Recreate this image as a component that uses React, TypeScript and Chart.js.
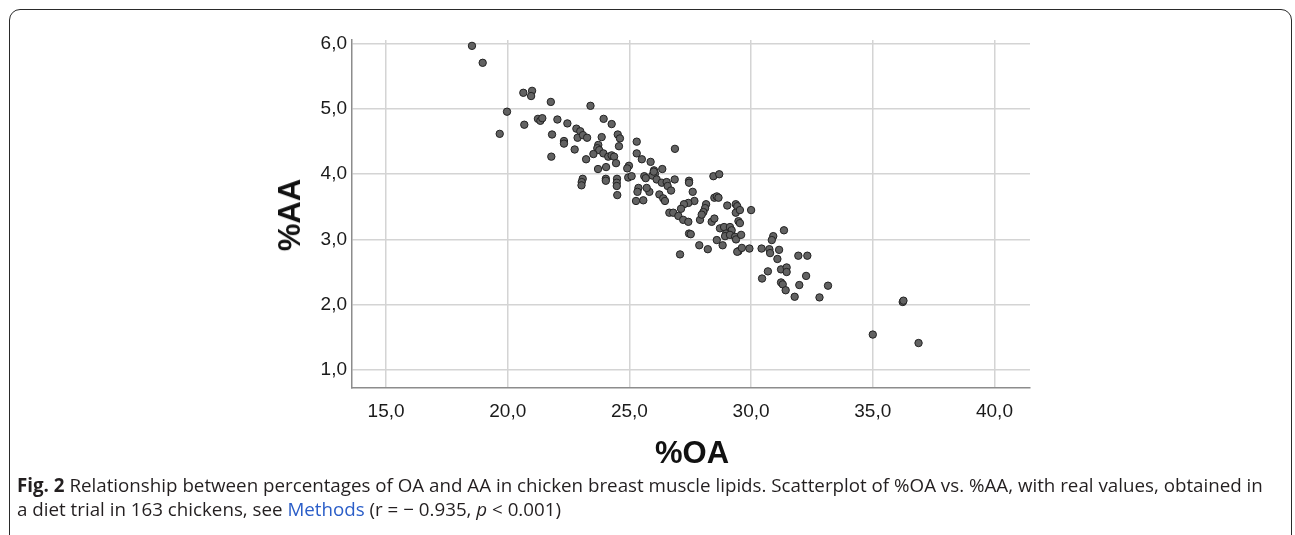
import React, { useEffect, useRef } from "react";
import { Chart, registerables } from "chart.js";

Chart.register(...registerables);

// %OA (x) and %AA (y) for each chicken, read from the scatterplot
const oaValues = [
  18.53, 18.97, 19.67, 19.97, 20.64, 20.68, 21.0, 20.96, 21.24, 21.34,
  21.42, 21.77, 21.82, 21.79, 22.04, 22.45, 22.31, 22.31, 22.82, 22.98,
  22.87, 23.09, 23.26, 22.75, 23.22, 23.08, 23.04, 23.03, 23.4, 23.94,
  24.27, 23.86, 24.52, 24.61, 24.57, 23.72, 23.68, 23.76, 23.52, 23.93,
  24.13, 24.27, 24.37, 24.45, 23.71, 24.04, 24.03, 24.03, 24.49, 24.48,
  24.48, 24.5, 24.98, 24.91, 24.95, 25.09, 25.3, 25.3, 25.51, 25.87,
  26.01, 26.05, 25.94, 25.61, 25.67, 26.35, 26.12, 26.33, 26.53, 26.57,
  26.71, 26.86, 26.87, 25.37, 25.33, 25.82, 25.71, 25.27, 25.57, 26.23,
  26.39, 26.46, 27.45, 27.45, 27.6, 27.67, 27.42, 27.24, 27.12, 26.64,
  26.8, 27.01, 27.21, 27.42, 27.45, 27.52, 27.87, 27.08, 27.9, 28.15,
  28.11, 28.04, 27.97, 28.22, 28.45, 28.69, 28.49, 28.59, 28.66, 28.38,
  28.49, 28.59, 28.83, 29.02, 29.37, 29.43, 29.37, 29.54, 30.0, 29.48,
  29.54, 28.72, 28.89, 29.13, 29.2, 28.97, 28.93, 29.13, 29.34, 29.38,
  29.59, 29.48, 29.43, 29.62, 29.93, 30.43, 30.75, 30.78, 30.91, 30.85,
  31.35, 31.15, 31.08, 31.94, 32.31, 31.23, 31.46, 31.46, 30.69, 30.45,
  31.23, 31.3, 32.26, 31.98, 31.42, 31.79, 33.16, 32.81, 36.23, 35.0,
  36.88, 36.26, 26.0,
];
const aaValues = [
  5.97, 5.71, 4.62, 4.96, 5.25, 4.76, 5.28, 5.2, 4.85, 4.82,
  4.86, 5.11, 4.61, 4.27, 4.84, 4.78, 4.51, 4.47, 4.7, 4.66,
  4.56, 4.6, 4.56, 4.38, 4.23, 3.93, 3.88, 3.83, 5.05, 4.85,
  4.77, 4.57, 4.61, 4.55, 4.43, 4.45, 4.4, 4.37, 4.31, 4.32,
  4.27, 4.29, 4.27, 4.17, 4.08, 4.11, 3.93, 3.9, 3.93, 3.87,
  3.82, 3.68, 4.13, 4.09, 3.95, 3.97, 4.5, 4.32, 4.23, 4.19,
  4.06, 4.01, 3.98, 3.97, 3.94, 4.08, 3.92, 3.87, 3.88, 3.82,
  3.75, 3.92, 4.39, 3.79, 3.73, 3.73, 3.79, 3.59, 3.6, 3.69,
  3.63, 3.59, 3.9, 3.87, 3.73, 3.59, 3.56, 3.54, 3.47, 3.41,
  3.41, 3.36, 3.3, 3.27, 3.09, 3.08, 2.91, 2.77, 3.3, 3.54,
  3.48, 3.42, 3.38, 2.85, 3.97, 4.0, 3.64, 3.66, 3.64, 3.27,
  3.32, 2.99, 2.91, 3.52, 3.54, 3.51, 3.41, 3.45, 3.45, 3.28,
  3.25, 3.17, 3.19, 3.19, 3.14, 3.09, 3.05, 3.07, 3.04, 3.0,
  3.07, 2.82, 2.81, 2.87, 2.86, 2.86, 2.85, 2.79, 3.05, 2.99,
  3.14, 2.84, 2.7, 2.75, 2.75, 2.54, 2.57, 2.5, 2.51, 2.4,
  2.34, 2.31, 2.44, 2.3, 2.22, 2.12, 2.29, 2.11, 2.04, 1.54,
  1.41, 2.06, 4.04,
];

const xTickValues = [15, 20, 25, 30, 35, 40];
const yTickValues = [1, 2, 3, 4, 5, 6];
const xTitle = "%OA";
const yTitle = "%AA";
const captionBold = "Fig. 2";
const captionLine1 =
  " Relationship between percentages of OA and AA in chicken breast muscle lipids. Scatterplot of %OA vs. %AA, with real values, obtained in";
const captionLine2a = "a diet trial in 163 chickens, see ";
const captionLink = "Methods";
const captionLine2b = " (r = \u2212 0.935, ";
const captionP = "p";
const captionLine2c = " < 0.001)";

const fmt = (v: number | string) => Number(v).toFixed(1).replace(".", ",");

const tickFont = { family: "'Liberation Sans', Arial, sans-serif", size: 19 };

export default function App() {
  const ref = useRef<HTMLCanvasElement>(null);

  useEffect(() => {
    const chart = new Chart(ref.current!, {
      type: "scatter",
      data: {
        datasets: [
          {
            data: oaValues.map((x, i) => ({ x, y: aaValues[i] })),
            backgroundColor: "#626262",
            borderColor: "#222222",
            borderWidth: 1,
            pointRadius: 3.7,
            pointHoverRadius: 3.7,
          },
        ],
      },
      options: {
        animation: false,
        responsive: false,
        devicePixelRatio: 1,
        layout: { padding: { top: 40, right: 265, left: 0, bottom: 0 } },
        plugins: { legend: { display: false }, tooltip: { enabled: false } },
        scales: {
          x: {
            type: "linear",
            min: 13.6,
            max: 41.46,
            afterBuildTicks: (s: any) => {
              s.ticks = xTickValues.map((v) => ({ value: v }));
            },
            afterFit: (s: any) => {
              s.height = 147;
            },
            grid: { color: "#d4d4d4", lineWidth: 1.5, drawTicks: false },
            border: { color: "#8c8c8c", width: 1.5 },
            ticks: {
              padding: 12,
              font: tickFont,
              color: "#1a1a1a",
              callback: (v: any) => fmt(v),
              maxRotation: 0,
              autoSkip: false,
            },
          },
          y: {
            type: "linear",
            min: 0.72,
            max: 6.06,
            afterBuildTicks: (s: any) => {
              s.ticks = yTickValues.map((v) => ({ value: v }));
            },
            afterFit: (s: any) => {
              s.width = 352;
            },
            grid: { color: "#d4d4d4", lineWidth: 1.5, drawTicks: false },
            border: { color: "#8c8c8c", width: 1.5 },
            ticks: {
              padding: 5,
              font: tickFont,
              color: "#1a1a1a",
              callback: (v: any) => fmt(v),
              autoSkip: false,
            },
          },
        },
      },
    });
    return () => chart.destroy();
  }, []);

  const captionFont: React.CSSProperties = {
    fontFamily: "'Open Sans', 'Noto Sans', sans-serif",
    fontSize: 18.75,
    color: "#231f20",
    whiteSpace: "nowrap",
    position: "absolute",
    left: 17,
    lineHeight: "24px",
  };

  return (
    <div
      style={{
        position: "absolute",
        left: 0,
        top: 0,
        width: 1295,
        height: 535,
        overflow: "hidden",
        background: "#fff",
      }}
    >
      <div
        style={{
          position: "absolute",
          left: 9,
          top: 9,
          width: 1283,
          height: 600,
          border: "1.5px solid #2a2a2a",
          borderRadius: "11px 11px 0 0",
          boxSizing: "border-box",
        }}
      />
      <canvas
        ref={ref}
        width={1295}
        height={535}
        style={{ position: "absolute", left: 0, top: 0, width: 1295, height: 535 }}
      />
      <div
        style={{
          position: "absolute",
          left: 290,
          top: 215,
          transform: "translate(-50%, -50%) rotate(-90deg)",
          fontFamily: "'Liberation Sans', Arial, sans-serif",
          fontWeight: "bold",
          fontSize: 31,
          color: "#111",
          whiteSpace: "nowrap",
        }}
      >
        {yTitle}
      </div>
      <div
        style={{
          position: "absolute",
          left: 692,
          top: 453,
          transform: "translate(-50%, -50%)",
          fontFamily: "'Liberation Sans', Arial, sans-serif",
          fontWeight: "bold",
          fontSize: 31,
          color: "#111",
          whiteSpace: "nowrap",
        }}
      >
        {xTitle}
      </div>
      <div style={{ ...captionFont, top: 473 }}>
        <b>{captionBold}</b>
        {captionLine1}
      </div>
      <div style={{ ...captionFont, top: 497 }}>
        {captionLine2a}
        <span style={{ color: "#2b5ec8" }}>{captionLink}</span>
        {captionLine2b}
        <i>{captionP}</i>
        {captionLine2c}
      </div>
    </div>
  );
}
